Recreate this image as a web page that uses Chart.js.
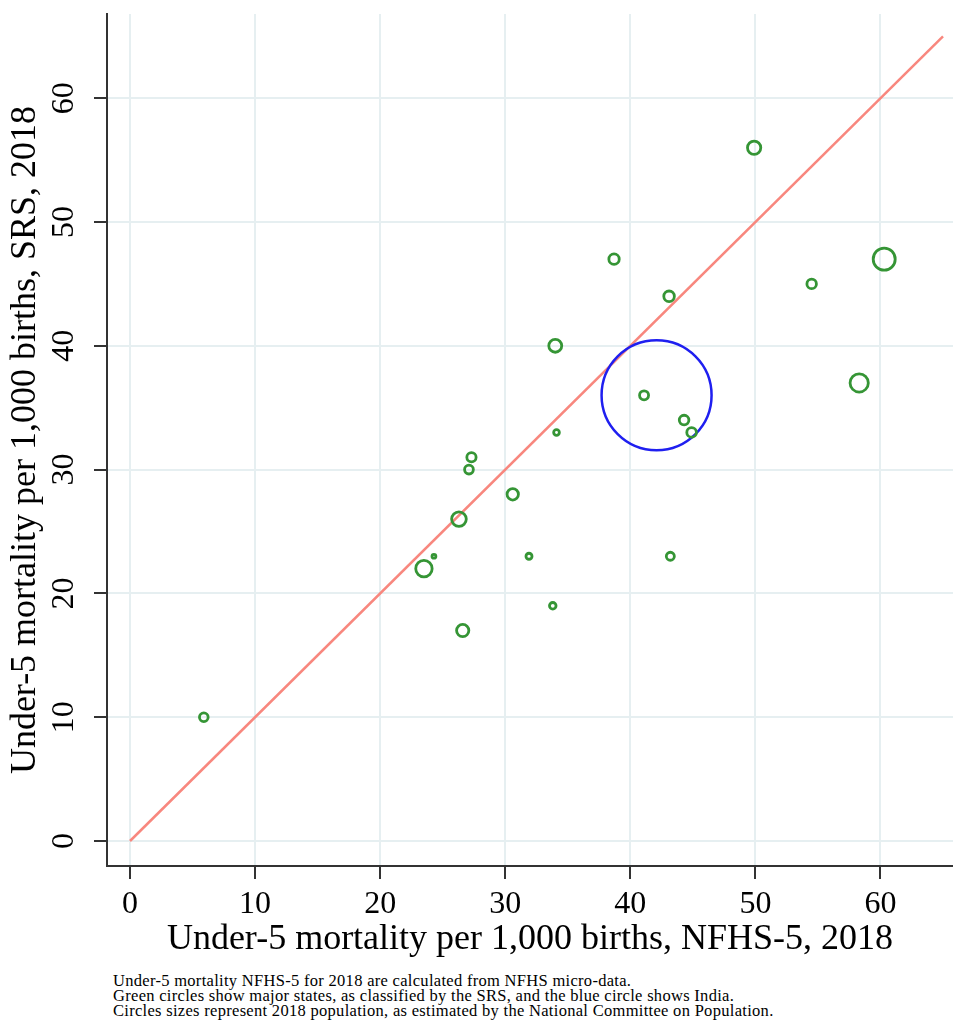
<!DOCTYPE html>
<html>
<head>
<meta charset="utf-8">
<script src="https://cdn.jsdelivr.net/npm/chart.js@4.4.1/dist/chart.umd.min.js"></script>
<style>
    body { margin: 0; background: #fff; overflow: hidden; }
    #wrap { position: relative; width: 953px; height: 965px; }
    #note {
        position: absolute; left: 113px; top: 973px;
        font-family: "Liberation Serif", serif; font-size: 16.5px; line-height: 15px;
        color: #000; letter-spacing: 0.3px; white-space: nowrap;
    }
</style>
</head>
<body>
<div id="wrap"><canvas id="u5-chart"></canvas></div>
<div id="note">
    Under-5 mortality NFHS-5 for 2018 are calculated from NFHS micro-data.<br>
    Green circles show major states, as classified by the SRS, and the blue circle shows India.<br>
    Circles sizes represent 2018 population, as estimated by the National Committee on Population.
</div>
<script>
// states: NFHS-5 estimate (x), SRS value (y), population in millions (bubble size)
const stateNfhs = [5.9, 23.5, 24.3, 26.3, 26.6, 27.1, 27.3, 30.6, 31.9, 33.8, 34.1, 34.0, 38.7, 41.1, 43.1, 43.2, 44.3, 44.9, 49.9, 54.5, 58.3, 60.3];
const stateSrs  = [10, 22, 23, 26, 17, 30, 31, 28, 23, 19, 33, 40, 47, 36, 44, 23, 34, 33, 56, 45, 37, 47];
const statePop  = [35, 125, 7, 100, 70, 36, 40, 60, 17, 20, 15, 78, 50, 38, 52, 30, 43, 43, 82, 42, 155, 225];

// India as a whole
const indiaNfhs = [42.1];
const indiaSrs  = [36];
const indiaPop  = [1330];

// 45 degree reference line
const diagX = [0, 65];
const diagY = [0, 65];

const tickValues = [0, 10, 20, 30, 40, 50, 60];

const serif = '"Liberation Serif", "Times New Roman", serif';
const green = '#359535';
const blue = '#1f1ff0';
const salmon = '#f8877e';
const gridCol = '#e6eff1';

// marker radius follows sqrt of population, scaled per series
function toBubbles(xs, ys, pops, k) {
    return xs.map((x, i) => ({ x: x, y: ys[i], r: k * Math.sqrt(pops[i]) }));
}

// no extra room for half labels at the ends of the axes
function noPadding(scale) {
    scale.paddingLeft = 0;
    scale.paddingRight = 0;
    scale.paddingTop = 0;
    scale.paddingBottom = 0;
}

const ctx = document.getElementById('u5-chart').getContext('2d');

const axisBase = {
    type: 'linear',
    afterBuildTicks: function (scale) {
        scale.ticks = tickValues.map(v => ({ value: v }));
    },
    grid: {
        color: gridCol,
        lineWidth: 2,
        tickColor: '#333',
        tickWidth: 2,
        tickLength: 13
    },
    border: { color: '#333', width: 2 }
};

new Chart(ctx, {
    data: {
        datasets: [
            {
                type: 'line',
                label: 'y = x',
                data: diagX.map((x, i) => ({ x: x, y: diagY[i] })),
                borderColor: salmon,
                borderWidth: 2.5,
                pointRadius: 0,
                fill: false,
                order: 3
            },
            {
                type: 'bubble',
                label: 'India',
                data: toBubbles(indiaNfhs, indiaSrs, indiaPop, 1.508),
                borderColor: blue,
                backgroundColor: 'rgba(0,0,0,0)',
                borderWidth: 2.5,
                order: 2
            },
            {
                type: 'bubble',
                label: 'States',
                data: toBubbles(stateNfhs, stateSrs, statePop, 0.733),
                borderColor: green,
                backgroundColor: 'rgba(0,0,0,0)',
                borderWidth: 2.8,
                order: 1
            }
        ]
    },
    options: {
        responsive: true,
        maintainAspectRatio: false,
        animation: false,
        events: [],
        layout: { autoPadding: false, padding: { top: 14, right: 0, left: 0, bottom: 0 } },
        plugins: {
            legend: { display: false },
            tooltip: { enabled: false }
        },
        scales: {
            x: Object.assign({}, axisBase, {
                position: 'bottom',
                min: -1.84,
                max: 65.8,
                afterFit: function (scale) { scale.height = 99; noPadding(scale); },
                ticks: {
                    color: '#000',
                    font: { family: serif, size: 32 },
                    padding: 6,
                    maxRotation: 0,
                    autoSkip: false
                },
                title: {
                    display: true,
                    text: 'Under-5 mortality per 1,000 births, NFHS-5, 2018',
                    color: '#000',
                    font: { family: serif, size: 36 },
                    padding: { top: 0, bottom: 4 }
                }
            }),
            y: Object.assign({}, axisBase, {
                position: 'left',
                min: -2.02,
                max: 66.8,
                afterFit: function (scale) { scale.width = 107; noPadding(scale); },
                ticks: {
                    color: '#000',
                    font: { family: serif, size: 32 },
                    padding: 13,
                    minRotation: 90,
                    maxRotation: 90,
                    crossAlign: 'center',
                    autoSkip: false
                },
                title: {
                    display: true,
                    text: 'Under-5 mortality per 1,000 births, SRS, 2018',
                    color: '#000',
                    font: { family: serif, size: 36 },
                    padding: { top: 4, bottom: 0 }
                }
            })
        }
    }
});
</script>
</body>
</html>
